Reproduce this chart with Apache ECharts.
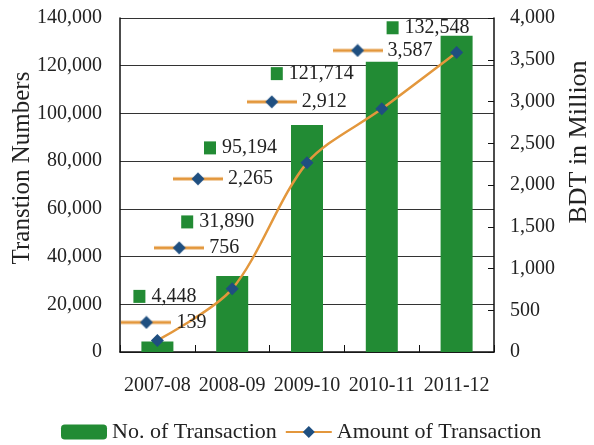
<!DOCTYPE html>
<html>
<head>
<meta charset="utf-8">
<script src="https://cdn.jsdelivr.net/npm/echarts@6/dist/echarts.min.js"></script>
<style>
  html, body { margin: 0; padding: 0; background: #fff; }
  #chart { width: 594px; height: 445px; }
</style>
</head>
<body>
<div id="chart"></div>
<script>
// Mobile transaction figures by fiscal year
const categories = ['2007-08', '2008-09', '2009-10', '2010-11', '2011-12'];
const txnCount = [4448, 31890, 95194, 121714, 132548];   // No. of Transaction
const txnAmount = [139, 756, 2265, 2912, 3587];          // Amount, BDT million

// Hand-placed data label offsets (px) from each mark's anchor
const countLabelOffset = [[-24, -45], [-51, -54], [-103, 23], [-111, 12], [-70, -8]];
const amountLabelOffset = [[-36, -18], [-78, -41], [-134, 16], [-135, -7], [-124, -2]];

const FONT = '"Liberation Serif", "Times New Roman", serif';
const GREEN = '#228b34';
const ORANGE = '#e3973c';
const BLUE = '#1f4f80';
const INK = '#222';

// Small legend-key image (line with diamond) used inside the line labels
function lineKey() {
  const c = document.createElement('canvas');
  c.width = 50; c.height = 14;
  const g = c.getContext('2d');
  g.strokeStyle = ORANGE; g.lineWidth = 3;
  g.beginPath(); g.moveTo(0, 7); g.lineTo(50, 7); g.stroke();
  g.fillStyle = BLUE;
  g.beginPath(); g.moveTo(25, 0.5); g.lineTo(31.5, 7); g.lineTo(25, 13.5); g.lineTo(18.5, 7); g.closePath(); g.fill();
  return c;
}
const keyImg = lineKey();

const fmt = v => v.toLocaleString('en-US');
const valueStyle = { fontFamily: FONT, fontSize: 20, color: INK, padding: [0, 0, 0, 6], verticalAlign: 'middle' };

const chart = echarts.init(document.getElementById('chart'));
chart.setOption({
  backgroundColor: '#fff',
  animation: false,
  grid: { left: 120, right: 100, top: 18, bottom: 93, outerBoundsMode: 'none', containLabel: false },
  legend: {
    left: 56, top: 416,
    itemWidth: 46, itemHeight: 15, itemGap: 8,
    textStyle: { fontFamily: FONT, fontSize: 22, color: INK },
    data: ['No. of Transaction', 'Amount of Transaction']
  },
  xAxis: {
    type: 'category',
    data: categories,
    boundaryGap: true,
    axisLine: { lineStyle: { color: '#111', width: 1.5 } },
    axisTick: { show: true, inside: true, length: 7, lineStyle: { color: '#111' } },
    axisLabel: { fontFamily: FONT, fontSize: 20, color: INK, margin: 24, interval: 0 }
  },
  yAxis: [
    {
      type: 'value', min: 0, max: 140000, interval: 20000,
      name: 'Transtion Numbers', nameLocation: 'middle', nameGap: 85, nameRotate: 90,
      nameMoveOverlap: false,
      nameTextStyle: { fontFamily: FONT, fontSize: 25, color: INK, padding: [0, 0, 0, 34] },
      axisLine: { show: true, lineStyle: { color: '#111', width: 1.5 } },
      axisTick: { show: false },
      axisLabel: { fontFamily: FONT, fontSize: 20, color: INK, margin: 18, formatter: fmt },
      splitLine: { show: true, lineStyle: { color: '#333', width: 1 } }
    },
    {
      type: 'value', min: 0, max: 4000, interval: 500,
      name: 'BDT in Million', nameLocation: 'middle', nameGap: 72, nameRotate: 90,
      nameMoveOverlap: false,
      nameTextStyle: { fontFamily: FONT, fontSize: 26, color: INK, padding: [0, 0, 0, 86] },
      axisLine: { show: true, lineStyle: { color: '#111', width: 1.5 } },
      axisTick: { show: true, inside: true, length: 6, lineStyle: { color: '#111' } },
      axisLabel: { fontFamily: FONT, fontSize: 20, color: INK, margin: 16, formatter: fmt },
      splitLine: { show: false }
    }
  ],
  series: [
    {
      name: 'No. of Transaction',
      type: 'bar',
      yAxisIndex: 0,
      barWidth: 32,
      itemStyle: { color: GREEN },
      data: txnCount.map((v, i) => ({
        value: v,
        label: { offset: countLabelOffset[i] }
      })),
      label: {
        show: true, position: 'top', distance: 0,
        align: 'left', verticalAlign: 'middle',
        formatter: p => '{k|}{v|' + fmt(p.value) + '}',
        rich: {
          k: { width: 12, height: 13, backgroundColor: GREEN, verticalAlign: 'middle' },
          v: valueStyle
        }
      }
    },
    {
      name: 'Amount of Transaction',
      type: 'line',
      yAxisIndex: 1,
      smooth: 0.3,
      symbol: 'diamond',
      symbolSize: 13,
      lineStyle: { color: ORANGE, width: 2.5 },
      itemStyle: { color: BLUE },
      z: 5,
      data: txnAmount.map((v, i) => ({
        value: v,
        label: { offset: amountLabelOffset[i] }
      })),
      label: {
        show: true, position: 'inside',
        align: 'left', verticalAlign: 'middle',
        formatter: p => '{k|}{v|' + fmt(p.value) + '}',
        rich: {
          k: { width: 50, height: 14, backgroundColor: { image: keyImg }, verticalAlign: 'middle' },
          v: Object.assign({}, valueStyle, { padding: [0, 0, 0, 5] })
        }
      }
    }
  ]
});
</script>
</body>
</html>
